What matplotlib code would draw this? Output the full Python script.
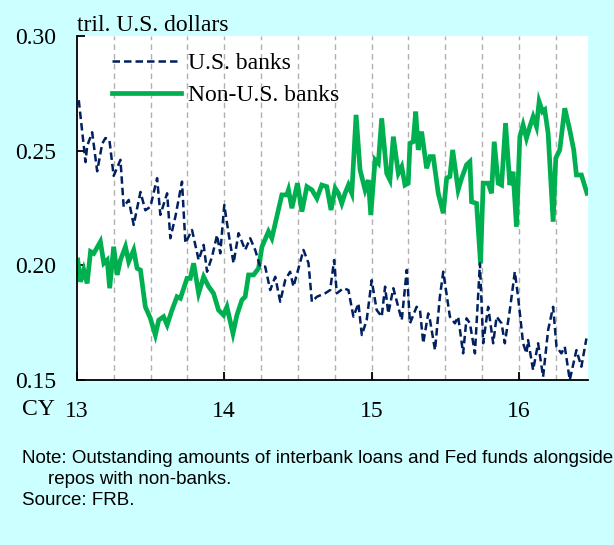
import matplotlib
matplotlib.use("Agg")
import matplotlib.pyplot as plt
import numpy as np

# ---- data (decimal years, trillion U.S. dollars) ----
us_t = [13.012, 13.058, 13.069, 13.103, 13.137, 13.171, 13.193, 13.220, 13.249, 13.295,
        13.317, 13.351, 13.385, 13.431, 13.464, 13.498, 13.544, 13.566, 13.612, 13.634,
        13.668, 13.713, 13.736, 13.781, 13.826, 13.860, 13.883, 13.917, 13.951, 13.973,
        14.000, 14.029, 14.063, 14.097, 14.142, 14.176, 14.210, 14.244, 14.278, 14.312,
        14.346, 14.380, 14.414, 14.447, 14.470, 14.538, 14.572, 14.595, 14.629, 14.685,
        14.719, 14.746, 14.764, 14.809, 14.843, 14.877, 14.911, 14.934, 14.967, 15.001,
        15.035, 15.069, 15.092, 15.114, 15.148, 15.193, 15.205, 15.239, 15.261, 15.306,
        15.329, 15.351, 15.385, 15.397, 15.431, 15.464, 15.487, 15.532, 15.566, 15.588,
        15.622, 15.645, 15.668, 15.702, 15.736, 15.758, 15.792, 15.826, 15.849, 15.883,
        15.905, 15.939, 15.973, 15.995, 16.029, 16.052, 16.063, 16.097, 16.131, 16.165,
        16.199, 16.233, 16.256, 16.289, 16.312, 16.346, 16.391, 16.425, 16.459]
us_v = [0.272, 0.245, 0.252, 0.258, 0.241, 0.253, 0.2555, 0.2547, 0.239, 0.246,
        0.2255, 0.2285, 0.2176, 0.232, 0.224, 0.2255, 0.238, 0.222, 0.2314, 0.2118,
        0.2212, 0.2365, 0.2097, 0.2154, 0.2023, 0.2089, 0.1972, 0.2038, 0.2132, 0.2052,
        0.2263, 0.214, 0.2009, 0.214, 0.2067, 0.2118, 0.2067, 0.1994, 0.1994, 0.1892,
        0.195, 0.1841, 0.1936, 0.1972, 0.1907, 0.2067, 0.2009, 0.1841, 0.1863, 0.1878,
        0.1892, 0.2023, 0.1878, 0.190, 0.1892, 0.1776, 0.1834, 0.1696, 0.1761, 0.1935,
        0.1805, 0.1776, 0.1907, 0.179, 0.190, 0.179, 0.1761, 0.198, 0.1747, 0.1819,
        0.1805, 0.166, 0.179, 0.1761, 0.163, 0.1863, 0.1972, 0.1776, 0.1747, 0.1776,
        0.1616, 0.1769, 0.1747, 0.1616, 0.2009, 0.166, 0.1819, 0.166, 0.1776, 0.1747,
        0.166, 0.1805, 0.1972, 0.1863, 0.166, 0.1616, 0.1674, 0.1543, 0.166, 0.1514,
        0.1718, 0.1819, 0.1645, 0.1616, 0.1645, 0.1500, 0.163, 0.1558, 0.1681]

nonus_t = [13.005, 13.024, 13.046, 13.069, 13.092, 13.114, 13.159, 13.182, 13.205, 13.222,
           13.249, 13.273, 13.295, 13.329, 13.351, 13.385, 13.408, 13.431, 13.464, 13.498,
           13.532, 13.555, 13.588, 13.612, 13.645, 13.679, 13.702, 13.747, 13.769, 13.792,
           13.826, 13.860, 13.894, 13.927, 13.961, 13.995, 14.018, 14.059, 14.086, 14.120,
           14.142, 14.165, 14.199, 14.233, 14.256, 14.300, 14.323, 14.357, 14.391, 14.425,
           14.436, 14.459, 14.497, 14.527, 14.561, 14.595, 14.629, 14.662, 14.696, 14.725,
           14.753, 14.775, 14.798, 14.820, 14.843, 14.866, 14.895, 14.922, 14.956, 14.978,
           14.995, 15.024, 15.046, 15.069, 15.103, 15.125, 15.148, 15.182, 15.205, 15.227,
           15.249, 15.261, 15.283, 15.300, 15.317, 15.340, 15.374, 15.397, 15.419, 15.453,
           15.487, 15.510, 15.532, 15.551, 15.588, 15.612, 15.645, 15.668, 15.679, 15.713,
           15.740, 15.758, 15.792, 15.815, 15.833, 15.860, 15.883, 15.910, 15.939, 15.961,
           15.984, 16.007, 16.029, 16.052, 16.075, 16.097, 16.120, 16.138, 16.161, 16.176,
           16.199, 16.233, 16.251, 16.278, 16.312, 16.346, 16.373, 16.391, 16.425, 16.463]
nonus_v = [0.2023, 0.1928, 0.198, 0.1921, 0.206, 0.2052, 0.2103, 0.2009, 0.2023, 0.190,
           0.2081, 0.1958, 0.2023, 0.2081, 0.2016, 0.2067, 0.1987, 0.1979, 0.1819, 0.1769,
           0.1696, 0.1761, 0.1776, 0.174, 0.1805, 0.1863, 0.1856, 0.1943, 0.1943, 0.2009,
           0.1878, 0.195, 0.1907, 0.1878, 0.1805, 0.1783, 0.1819, 0.1703, 0.1783, 0.1849,
           0.1863, 0.1958, 0.1958, 0.1987, 0.2081, 0.2147, 0.2118, 0.2212, 0.2307, 0.2307,
           0.2329, 0.2249, 0.2358, 0.2234, 0.2343, 0.2329, 0.2292, 0.235, 0.2343, 0.2241,
           0.2336, 0.2314, 0.227, 0.2314, 0.235, 0.2314, 0.2656, 0.2416, 0.2329, 0.2372,
           0.2219, 0.246, 0.2445, 0.2641, 0.2401, 0.2372, 0.2561, 0.2401, 0.243, 0.235,
           0.2358, 0.2532, 0.2539, 0.267, 0.2503, 0.2583, 0.2423, 0.2474, 0.2474, 0.2314,
           0.2227, 0.238, 0.2387, 0.2503, 0.2329, 0.238, 0.2438, 0.2452, 0.2277, 0.227,
           0.2009, 0.2358, 0.2358, 0.2314, 0.2539, 0.2358, 0.235, 0.262, 0.235, 0.2408,
           0.2168, 0.2561, 0.2612, 0.2554, 0.2605, 0.2648, 0.2605, 0.2714, 0.267, 0.2678,
           0.2576, 0.219, 0.2467, 0.2503, 0.2685, 0.259, 0.2503, 0.2394, 0.2394, 0.2314]

x_ticks = [13, 14, 15, 16]
x_labels = ["13", "14", "15", "16"]
y_ticks = [0.15, 0.20, 0.25, 0.30]
y_labels = ["0.15", "0.20", "0.25", "0.30"]
quarters = [13.25, 13.5, 13.75, 14.0, 14.25, 14.5, 14.75, 15.0, 15.25, 15.5,
            15.75, 16.0, 16.25]

BG = "#CCFFFF"
NAVY = "#002060"
GREEN = "#00B050"
SERIF = ["Liberation Serif", "DejaVu Serif"]
SANS = ["Liberation Sans", "DejaVu Sans"]
FS = 17

fig = plt.figure(figsize=(6.14, 5.45), dpi=100, facecolor=BG)
ax = fig.add_axes([0.1254, 0.3028, 0.8323, 0.6312])
ax.set_facecolor("white")

for q in quarters:
    ax.axvline(q, color="#B0B0B0", lw=1.0, ls=(0, (4, 3)), zorder=1)

ax.plot(us_t, us_v, color=NAVY, lw=1.8, ls=(0, (3, 1.6)), label="U.S. banks", zorder=3)
ax.plot(nonus_t, nonus_v, color=GREEN, lw=3.4, label="Non-U.S. banks", zorder=2,
        solid_joinstyle="miter")

ax.set_xlim(13, 16.47)
ax.set_ylim(0.15, 0.30)
ax.set_xticks(x_ticks)
ax.set_xticklabels(x_labels, fontfamily=SERIF, fontsize=FS)
ax.set_yticks(y_ticks)
ax.set_yticklabels(y_labels, fontfamily=SERIF, fontsize=FS)
ax.tick_params(axis="both", direction="in", length=6, width=1.3, color="black")
ax.tick_params(axis="x", pad=15)
ax.tick_params(axis="y", pad=15)
for s in ["top", "right"]:
    ax.spines[s].set_visible(False)
for s in ["left", "bottom"]:
    ax.spines[s].set_linewidth(1.3)
    ax.spines[s].set_color("black")

leg = ax.legend(loc="upper left", bbox_to_anchor=(0.037, 1.0), frameon=False,
                prop={"family": SERIF, "size": FS}, handlelength=2.9,
                handletextpad=0.3, labelspacing=0.46, borderaxespad=0.3)

fig.text(0.126, 0.943, "tril. U.S. dollars", fontfamily=SERIF, fontsize=FS,
         ha="left", va="baseline")
fig.text(0.036, 0.248, "CY", fontfamily=SERIF, fontsize=FS, ha="left", va="center")

fig.text(0.036, 0.159, "Note: Outstanding amounts of interbank loans and Fed funds alongside",
         fontfamily=SANS, fontsize=13.5, ha="left", va="center")
fig.text(0.078, 0.121, "repos with non-banks.", fontfamily=SANS, fontsize=13.5,
         ha="left", va="center")
fig.text(0.036, 0.082, "Source: FRB.", fontfamily=SANS, fontsize=13.5,
         ha="left", va="center")

fig.savefig("out.png", dpi=100, facecolor=BG)
